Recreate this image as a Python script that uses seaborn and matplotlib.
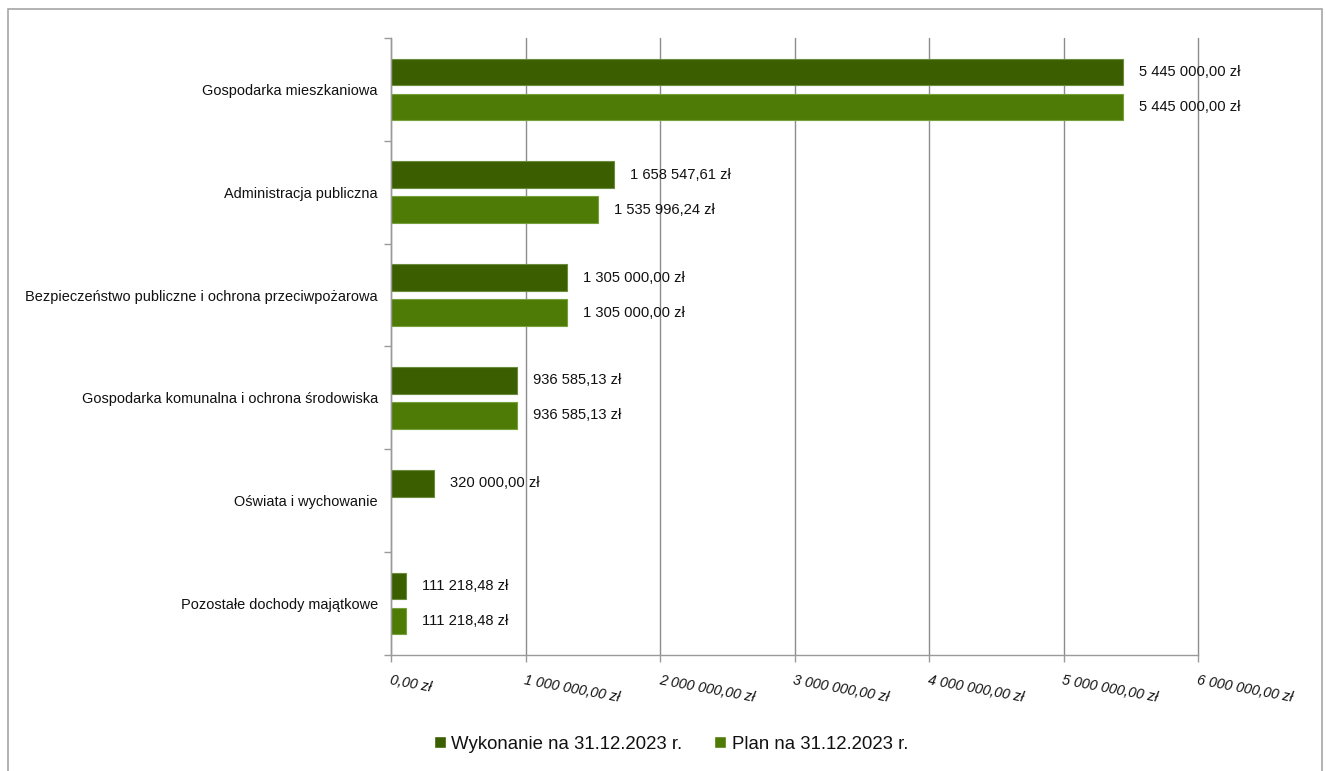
import numpy as np
import pandas as pd
import matplotlib
matplotlib.use("Agg")
import matplotlib.pyplot as plt
from matplotlib.patches import Rectangle
from matplotlib.ticker import FixedLocator, FuncFormatter
import seaborn as sns

# Dochody majątkowe wg działów
categories = [
    "Gospodarka mieszkaniowa",
    "Administracja publiczna",
    "Bezpieczeństwo publiczne i ochrona przeciwpożarowa",
    "Gospodarka komunalna i ochrona środowiska",
    "Oświata i wychowanie",
    "Pozostałe dochody majątkowe",
]
wykonanie = [5445000.00, 1658547.61, 1305000.00, 936585.13, 320000.00, 111218.48]
plan = [5445000.00, 1535996.24, 1305000.00, 936585.13, np.nan, 111218.48]
series_names = ["Wykonanie na 31.12.2023 r.", "Plan na 31.12.2023 r."]
x_ticks = [0, 1e6, 2e6, 3e6, 4e6, 5e6, 6e6]

colors = ["#3b5e00", "#4e7a06"]
edge_colors = ["#6a8c3c", "#76a03a"]


def pln(v):
    whole = int(round(v * 100)) // 100
    grosze = int(round(v * 100)) % 100
    s = f"{whole:,}".replace(",", " ")
    return f"{s},{grosze:02d} zł"


df = pd.DataFrame({
    "kategoria": categories * 2,
    "seria": [series_names[0]] * len(categories) + [series_names[1]] * len(categories),
    "kwota": wykonanie + plan,
}).dropna()

sns.set_style("white")
plt.rcParams["font.family"] = ["Liberation Sans", "DejaVu Sans"]
plt.rcParams["text.color"] = "#111111"
plt.rcParams["xtick.color"] = "#111111"
plt.rcParams["ytick.color"] = "#111111"

fig = plt.figure(figsize=(13.26, 7.71), dpi=100)
ax = fig.add_axes([0.2949, 0.1505, 0.9035 - 0.2949, 0.9507 - 0.1505])

sns.barplot(
    data=df, y="kategoria", x="kwota", hue="seria",
    order=categories, hue_order=series_names, palette=colors, saturation=1,
    orient="h", width=0.68, errorbar=None, ax=ax, legend=True,
)

# thinner bars with a small gap between the two series
bar_h = 0.26
for cont, ec in zip(ax.containers, edge_colors):
    for p in cont.patches:
        c = p.get_y() + p.get_height() / 2
        p.set_height(bar_h)
        p.set_y(c - bar_h / 2)
        p.set_edgecolor(ec)
        p.set_linewidth(0.8)
    ax.bar_label(cont, fmt=pln, padding=11.5, fontsize=10.6, color="#111111")

ax.set_xlim(0, 6e6)
ax.set_ylim(5.5, -0.5)
ax.set_xlabel("")
ax.set_ylabel("")

ax.xaxis.set_major_locator(FixedLocator(x_ticks))
ax.xaxis.set_major_formatter(FuncFormatter(lambda v, pos: pln(v)))
for lbl in ax.get_xticklabels():
    lbl.set_rotation(-10.5)
    lbl.set_ha("left")
    lbl.set_va("top")
    lbl.set_rotation_mode("anchor")
    lbl.set_fontstyle("italic")
    lbl.set_fontsize(10.3)
ax.tick_params(axis="x", which="major", length=5, width=1, color="#9a9a9a",
               labelcolor="#111111", direction="out", bottom=True, pad=8)

ax.yaxis.set_minor_locator(FixedLocator(np.arange(-0.5, 6.0, 1.0)))
ax.tick_params(axis="y", which="major", length=0, pad=9.5, labelsize=10.45,
               labelcolor="#111111")
ax.tick_params(axis="y", which="minor", length=5, width=1, color="#9a9a9a",
               direction="out", left=True)

ax.grid(axis="x", color="#8c8c8c", linewidth=1)
ax.grid(axis="y", visible=False)
for gl in ax.get_xgridlines():
    gl.set_clip_on(False)
ax.set_axisbelow(True)
for side in ["top", "right"]:
    ax.spines[side].set_visible(False)
for side in ["left", "bottom"]:
    ax.spines[side].set_color("#9a9a9a")
    ax.spines[side].set_linewidth(1)

handles, labels = ax.get_legend_handles_labels()
ax.legend_.remove()
fig.legend(handles, labels, loc="center", bbox_to_anchor=(0.506, 0.035),
           ncol=2, frameon=False, fontsize=13.4, handlelength=0.65,
           handleheight=0.65, handletextpad=0.3, columnspacing=1.7,
           labelcolor="#111111")

# outer frame of the chart area
fig.patches.append(Rectangle((8 / 1326, -0.05), (1322 - 8) / 1326, 1 - 9 / 771 + 0.05,
                             transform=fig.transFigure, fill=False,
                             edgecolor="#a6a6a6", linewidth=1.2))

fig.savefig("out.png", dpi=100)
